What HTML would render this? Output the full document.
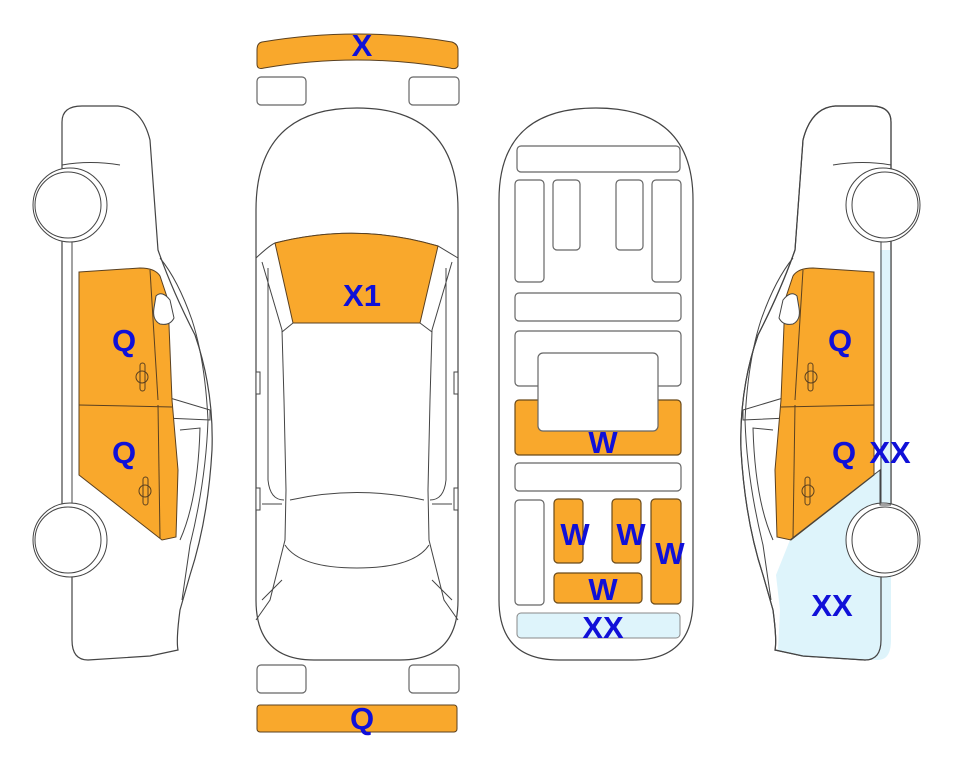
<!DOCTYPE html>
<html><head><meta charset="utf-8"><style>
html,body{margin:0;padding:0;background:#fff;}
svg{display:block;}
text{font-family:"Liberation Sans",sans-serif;font-weight:bold;fill:#1010d8;font-size:31px;text-anchor:middle;}
</style></head><body>
<svg width="963" height="768" viewBox="0 0 963 768" xmlns="http://www.w3.org/2000/svg">
<defs>
<path id="bodypath" d="M62,150 L62,122 Q62,106 82,106 L118,106 Q142,108 150,140 L158,250 Q172,290 195,335 Q214,390 212,450 Q208,520 190,575 L180,610 Q176,640 178,650 L150,656 L88,660 Q72,660 72,640 L72,575 L62,575 L62,505 L62,240 L62,150 Z"/>
<g id="details">
  <path d="M62,165 Q90,160 120,165" fill="none" stroke="#444" stroke-width="1"/>
  <line x1="72" y1="240" x2="72" y2="505" stroke="#444" stroke-width="1"/>
  <path d="M160,258 Q178,280 192,320 Q205,360 208,420 Q206,480 190,545 L182,600" fill="none" stroke="#444" stroke-width="1"/>
  <path d="M160,395 L210,410 L210,420 L165,418" fill="none" stroke="#444" stroke-width="1"/>
  <path d="M180,430 L200,428 Q198,500 180,540" fill="none" stroke="#444" stroke-width="1"/>
  <path d="M79,272 L140,268 Q155,268 160,276 L168,300 L172,400 L178,470 L176,537 L162,540 L79,475 Z" fill="#f9a82c" stroke="#5a4020" stroke-width="1"/>
  <line x1="79" y1="405" x2="172" y2="407" stroke="#5a4020" stroke-width="1"/>
  <line x1="150" y1="270" x2="158" y2="400" stroke="#5a4020" stroke-width="1"/>
  <line x1="158" y1="405" x2="160" y2="538" stroke="#5a4020" stroke-width="1"/>
  <path d="M156,296 Q162,290 170,300 L174,318 Q170,326 160,324 Q152,320 154,308 Z" fill="#fff" stroke="#444" stroke-width="1"/>
  <rect x="140" y="363" width="5" height="28" rx="2.5" fill="none" stroke="#5a4020"/>
  <circle cx="142" cy="377" r="6" fill="none" stroke="#5a4020"/>
  <rect x="143" y="477" width="5" height="28" rx="2.5" fill="none" stroke="#5a4020"/>
  <circle cx="145" cy="491" r="6" fill="none" stroke="#5a4020"/>
  <circle cx="70" cy="205" r="37" fill="#fff" stroke="#444" stroke-width="1"/>
  <circle cx="68" cy="205" r="33" fill="#fff" stroke="#444" stroke-width="1"/>
  <circle cx="70" cy="540" r="37" fill="#fff" stroke="#444" stroke-width="1"/>
  <circle cx="68" cy="540" r="33" fill="#fff" stroke="#444" stroke-width="1"/>
</g>
</defs>

<use href="#bodypath" fill="#fff" stroke="#444" stroke-width="1.2"/>
<use href="#details"/>

<use href="#bodypath" fill="#fff" stroke="#444" stroke-width="1.2" transform="translate(953,0) scale(-1,1)"/>
<path d="M880,250 L891,250 L891,505 L880,505 Z" fill="#def4fb"/>
<path d="M790,540 L880,470 L880,505 L891,505 L891,640 Q891,660 878,660 L805,656 L778,650 L780,610 L776,575 Z" fill="#def4fb"/>
<use href="#bodypath" fill="none" stroke="#444" stroke-width="1.2" transform="translate(953,0) scale(-1,1)"/>
<use href="#details" transform="translate(953,0) scale(-1,1)"/>
<path d="M790,540 L880,470 L880,505 L891,505" fill="none" stroke="#444" stroke-width="1"/>

<path d="M256,210 Q256,108 357,108 Q458,108 458,210 L458,600 Q458,660 400,660 L314,660 Q256,660 256,600 Z" fill="#fff" stroke="#444" stroke-width="1.2"/>
<path d="M256,258 Q270,245 275,243 Q357,222 438,246 L458,258" fill="none" stroke="#444" stroke-width="1"/>
<path d="M275,243 Q357,222 438,246 L420,323 L293,323 Z" fill="#f9a82c" stroke="#5a4020" stroke-width="1"/>
<path d="M262,262 L282,330 L284,400 L286,490 L285,540 L280,560 L270,600 L256,620" fill="none" stroke="#444" stroke-width="1"/>
<path d="M452,262 L432,330 L430,400 L428,490 L429,540 L434,560 L444,600 L458,620" fill="none" stroke="#444" stroke-width="1"/>
<path d="M293,323 L282,332 M420,323 L432,332" stroke="#444" stroke-width="1"/>
<path d="M268,268 L268,480 Q270,500 284,500 M446,268 L446,480 Q444,500 430,500" fill="none" stroke="#444" stroke-width="1"/>
<path d="M290,500 Q357,485 424,500 M285,545 Q300,568 357,568 Q414,568 429,545" fill="none" stroke="#444" stroke-width="1"/>
<path d="M262,504 L282,504 M432,504 L452,504 M262,600 L282,580 M452,600 L432,580" stroke="#444" stroke-width="1"/>
<rect x="256" y="372" width="4" height="22" fill="#fff" stroke="#444" stroke-width="1"/>
<rect x="454" y="372" width="4" height="22" fill="#fff" stroke="#444" stroke-width="1"/>
<rect x="256" y="488" width="4" height="22" fill="#fff" stroke="#444" stroke-width="1"/>
<rect x="454" y="488" width="4" height="22" fill="#fff" stroke="#444" stroke-width="1"/>
<path d="M262,42 Q357,26 452,42 Q458,44 458,50 L458,66 Q456,70 450,68 Q357,52 264,68 Q257,70 257,64 L257,50 Q257,43 262,42 Z" fill="#f9a82c" stroke="#5a4020" stroke-width="1"/>
<rect x="257" y="77" width="49" height="28" rx="4" fill="#fff" stroke="#666" stroke-width="1.2"/>
<rect x="409" y="77" width="50" height="28" rx="4" fill="#fff" stroke="#666" stroke-width="1.2"/>
<rect x="257" y="665" width="49" height="28" rx="4" fill="#fff" stroke="#666" stroke-width="1.2"/>
<rect x="409" y="665" width="50" height="28" rx="4" fill="#fff" stroke="#666" stroke-width="1.2"/>
<rect x="257" y="705" width="200" height="27" rx="3" fill="#f9a82c" stroke="#5a4020" stroke-width="1"/>

<path d="M499,200 Q499,108 596,108 Q693,108 693,200 L693,600 Q693,660 633,660 L559,660 Q499,660 499,600 Z" fill="#fff" stroke="#444" stroke-width="1.2"/>
<g fill="#fff" stroke="#666" stroke-width="1.2">
<rect x="517" y="146" width="163" height="26" rx="4"/>
<rect x="515" y="180" width="29" height="102" rx="4"/>
<rect x="553" y="180" width="27" height="70" rx="4"/>
<rect x="616" y="180" width="27" height="70" rx="4"/>
<rect x="652" y="180" width="29" height="102" rx="4"/>
<rect x="515" y="293" width="166" height="28" rx="4"/>
<rect x="515" y="331" width="166" height="55" rx="4"/>
<rect x="515" y="463" width="166" height="28" rx="4"/>
<rect x="515" y="500" width="29" height="105" rx="4"/>
</g>
<g fill="#f9a82c" stroke="#6a4a1a" stroke-width="1.2">
<rect x="515" y="400" width="166" height="55" rx="4"/>
<rect x="554" y="499" width="29" height="64" rx="4"/>
<rect x="612" y="499" width="29" height="64" rx="4"/>
<rect x="651" y="499" width="30" height="105" rx="4"/>
<rect x="554" y="573" width="88" height="30" rx="4"/>
</g>
<rect x="538" y="353" width="120" height="78" rx="5" fill="#fff" stroke="#666" stroke-width="1.2"/>
<rect x="517" y="613" width="163" height="25" rx="4" fill="#def4fb" stroke="#888" stroke-width="1"/>

<text x="362" y="56">X</text>
<text x="362" y="306">X1</text>
<text x="362" y="729">Q</text>
<text x="124" y="351">Q</text>
<text x="124" y="463">Q</text>
<text x="840" y="351">Q</text>
<text x="844" y="463">Q</text>
<text x="890" y="463">XX</text>
<text x="832" y="616">XX</text>
<text x="603" y="453">W</text>
<text x="575" y="545">W</text>
<text x="631" y="545">W</text>
<text x="670" y="564">W</text>
<text x="603" y="600">W</text>
<text x="603" y="638">XX</text>
</svg>
</body></html>
